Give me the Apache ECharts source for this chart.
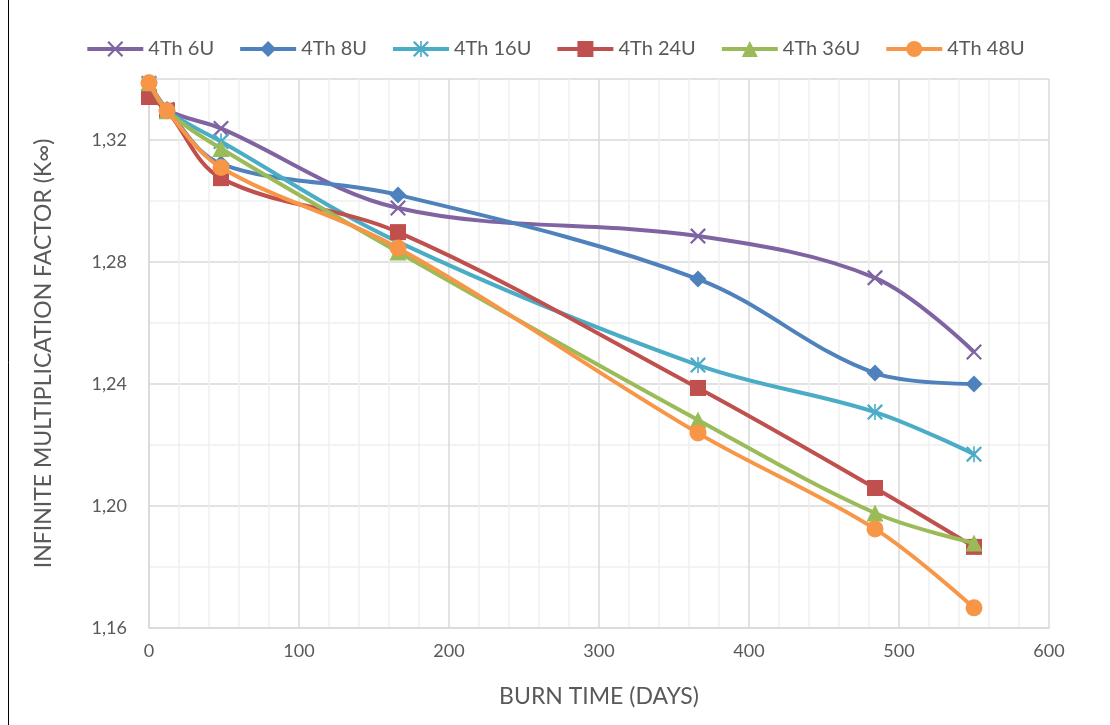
<!DOCTYPE html>
<html>
<head>
<meta charset="utf-8">
<script src="https://cdn.jsdelivr.net/npm/echarts@6/dist/echarts.min.js"></script>
<style>
html,body{margin:0;padding:0;background:#fff;}
#chart{width:1110px;height:725px;}
</style>
</head>
<body>
<div id="chart"></div>
<script>
const days = [0, 12, 48, 166, 366, 484, 550];
const seriesNames = ['4Th 6U', '4Th 8U', '4Th 16U', '4Th 24U', '4Th 36U', '4Th 48U'];
const s6U  = [1.3385, 1.3300, 1.3238, 1.2977, 1.2885, 1.2748, 1.2505];
const s8U  = [1.3388, 1.3300, 1.3122, 1.3020, 1.2744, 1.2436, 1.2400];
const s16U = [1.3385, 1.3298, 1.3195, 1.2866, 1.2462, 1.2308, 1.2170];
const s24U = [1.3341, 1.3296, 1.3075, 1.2898, 1.2387, 1.2059, 1.1866];
const s36U = [1.3388, 1.3296, 1.3172, 1.2833, 1.2282, 1.1977, 1.1879];
const s48U = [1.3388, 1.3296, 1.3110, 1.2846, 1.2239, 1.1925, 1.1666];
const seriesValues = [s6U, s8U, s16U, s24U, s36U, s48U];
const colors = ['#8064A2', '#4F81BD', '#4BACC6', '#C0504D', '#9BBB59', '#F79646'];

const xPath = 'path://M0,1L1,0L5,4L9,0L10,1L6,5L10,9L9,10L5,6L1,10L0,9L4,5Z';
const starPath = 'path://M0,1L1,0L4.5,3.5L4.5,0L5.5,0L5.5,3.5L9,0L10,1L6,5L10,9L9,10L5.5,6.5L5.5,10L4.5,10L4.5,6.5L1,10L0,9L4,5Z';
const symbols = [xPath, 'diamond', starPath, 'rect', 'triangle', 'circle'];
const symbolSizes = [16, 17, 16, 16, 17, 17];

const font = 'Lato, "Open Sans", sans-serif';
const chart = echarts.init(document.getElementById('chart'));

const series = seriesNames.map((name, i) => ({
  name: name,
  type: 'line',
  smooth: 0.35,
  data: days.map((d, j) => [d, seriesValues[i][j]]),
  symbol: symbols[i],
  symbolSize: symbolSizes[i],
  showAllSymbol: true,
  lineStyle: { color: colors[i], width: 4 },
  itemStyle: { color: colors[i], borderColor: colors[i], borderWidth: 0 },
  emphasis: { disabled: true },
  z: 2 + i
}));

chart.setOption({
  backgroundColor: '#fff',
  animation: false,
  color: colors,
  textStyle: { fontFamily: font },
  graphic: [{
    type: 'rect',
    shape: { x: 8.5, y: -2, width: 1200, height: 740 },
    style: { fill: 'none', stroke: '#000', lineWidth: 1 },
    silent: true
  }],
  legend: {
    top: 34,
    left: 'center',
    itemWidth: 56,
    itemHeight: 20,
    itemGap: 24,
    lineStyle: { width: 4 },
    textStyle: { color: '#595959', fontSize: 20, fontFamily: font },
    data: seriesNames
  },
  grid: { left: 149, right: 61, top: 79, bottom: 97, containLabel: false },
  xAxis: {
    type: 'value',
    min: 0, max: 600, interval: 100,
    name: 'BURN TIME (DAYS)',
    nameLocation: 'middle',
    nameGap: 57,
    nameTextStyle: { color: '#595959', fontSize: 23, fontFamily: font },
    axisLine: { show: true, lineStyle: { color: '#d9d9d9', width: 1.5 } },
    axisTick: { show: false },
    axisLabel: { color: '#595959', fontSize: 18, margin: 14, fontFamily: font },
    splitLine: { show: true, lineStyle: { color: '#d9d9d9', width: 1.5 } },
    minorTick: { show: false, splitNumber: 5 },
    minorSplitLine: { show: true, lineStyle: { color: '#efefef', width: 1.5 } }
  },
  yAxis: {
    type: 'value',
    min: 1.16, max: 1.34, interval: 0.04,
    name: 'INFINITE MULTIPLICATION FACTOR (K∞)',
    nameLocation: 'middle',
    nameGap: 94,
    nameRotate: 90,
    nameTextStyle: { color: '#595959', fontSize: 23, fontFamily: font },
    axisLine: { show: true, lineStyle: { color: '#d9d9d9', width: 1.5 } },
    axisTick: { show: false },
    axisLabel: {
      color: '#595959', fontSize: 18, margin: 22, fontFamily: font,
      showMaxLabel: false,
      formatter: v => v.toFixed(2).replace('.', ',')
    },
    splitLine: { show: true, lineStyle: { color: '#d9d9d9', width: 1.5 } },
    minorTick: { show: false, splitNumber: 2 },
    minorSplitLine: { show: true, lineStyle: { color: '#efefef', width: 1.5 } }
  },
  series: series
});
</script>
</body>
</html>
